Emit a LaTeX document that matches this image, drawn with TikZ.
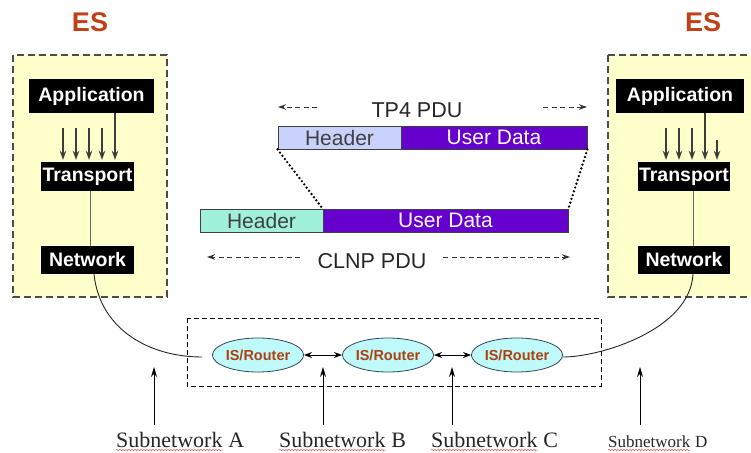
\documentclass[tikz,border=0pt]{standalone}
\usepackage{fontspec}
\setmainfont{Liberation Serif}
\setsansfont{Liberation Sans}
\usetikzlibrary{arrows.meta,shapes.geometric,decorations.pathmorphing}

\definecolor{esred}{RGB}{192,64,24}
\definecolor{esfill}{RGB}{255,255,204}
\definecolor{hdrblue}{RGB}{200,210,250}
\definecolor{udpurple}{RGB}{102,0,204}
\definecolor{hdrgreen}{RGB}{160,240,220}
\definecolor{rtfill}{RGB}{190,250,250}
\definecolor{rtline}{RGB}{50,70,90}
\definecolor{rttext}{RGB}{176,64,16}
\definecolor{arrgray}{RGB}{60,60,60}
\definecolor{spellred}{RGB}{225,90,90}

\begin{document}
\begin{tikzpicture}[x=1pt,y=-1pt,
  esbox/.style={draw=black!70, fill=esfill, line width=1.2pt, dash pattern=on 7pt off 4pt},
  estitle/.style={text=esred, inner sep=0pt, font=\sffamily\bfseries\fontsize{27}{30}\selectfont},
  layer/.style={fill=black, text=white, inner sep=0pt, font=\sffamily\bfseries\fontsize{19.5}{22}\selectfont},
  stackarrow/.style={draw=arrgray, line width=1.8pt, -{Stealth[length=9pt,width=6.5pt]}},
  field/.style={draw=black!75, line width=0.8pt, minimum height=23pt, inner sep=0pt, font=\sffamily\fontsize{21}{24}\selectfont},
  pdulabel/.style={inner sep=0pt, text=black!85, font=\sffamily\fontsize{21.5}{24}\selectfont},
  spanarrow/.style={draw=black!80, line width=1pt, dash pattern=on 5pt off 3.5pt, -{Stealth[length=8pt,width=5.5pt]}},
  fold/.style={draw=black, line width=2.6pt, dash pattern=on 0pt off 4pt, line cap=round},
  router/.style={ellipse, draw=rtline, fill=rtfill, line width=0.8pt, minimum width=90pt, minimum height=34pt, inner sep=0pt, text=rttext, font=\sffamily\bfseries\fontsize{14.5}{16}\selectfont},
  hop/.style={draw=black, line width=1pt, {Stealth[length=8pt,width=6pt]}-{Stealth[length=8pt,width=6pt]}},
  link/.style={draw=black!85, line width=0.9pt},
  stackline/.style={draw=black!60, line width=1pt},
  subnet/.style={inner sep=0pt, anchor=base west, text=black!85, font=\rmfamily\fontsize{22}{24}\selectfont},
  subnetsmall/.style={subnet, font=\rmfamily\fontsize{17}{19}\selectfont},
  uparrow/.style={draw=black, line width=1pt, -{Stealth[length=10pt,width=6pt]}},
  spell/.style={draw=spellred, line width=0.5pt, decorate, decoration={snake, amplitude=0.7pt, segment length=3pt}}
]
\useasboundingbox (0,0) rectangle (751,452);

% end systems
\draw[esbox] (13,55) rectangle (167,297);
\draw[esbox] (608,55) rectangle (760,297);
\node[estitle] (esL) at (90,22) {ES};
\node[estitle] (esR) at (703,22) {ES};

\node[layer, minimum width=125pt, minimum height=34pt] (appL) at (91.5,96) {Application};
\node[layer, minimum width=93pt, minimum height=29pt] (trL) at (87.5,176.5) {Transport};
\node[layer, minimum width=93pt, minimum height=28pt] (netL) at (87.5,260) {Network};

\node[layer, minimum width=128pt, minimum height=34pt] (appR) at (680,96) {Application};
\node[layer, minimum width=92pt, minimum height=29pt] (trR) at (684,176.5) {Transport};
\node[layer, minimum width=92pt, minimum height=28pt] (netR) at (684,260) {Network};

% application -> transport flows
\foreach \x in {63,76,89,102} {
  \coordinate (fl\x) at (\x,128);
  \draw[stackarrow, shorten >=2pt] (fl\x) -- (trL.north -| \x,0);
}
\draw[stackarrow, shorten >=2pt] (appL.south -| 115,0) -- (trL.north -| 115,0);
\foreach \x in {666,679,692} {
  \coordinate (fr\x) at (\x,128);
  \draw[stackarrow, shorten >=2pt] (fr\x) -- (trR.north -| \x,0);
}
\draw[stackarrow, shorten >=2pt] (appR.south -| 705,0) -- (trR.north -| 705,0);
\coordinate (fr717) at (717,140);
\draw[stackarrow, line width=1.1pt, shorten >=2pt] (fr717) -- (trR.north -| 717,0);

\draw[stackline] ([xshift=2.5pt]trL.south) -- ([xshift=2.5pt]netL.north);
\draw[stackline] ([xshift=9pt]trR.south) -- ([xshift=9pt]netR.north);

% PDUs
\node[field, fill=hdrblue, text=black!75, minimum width=123pt] (tpH) at (339.5,137.5) {Header};
\node[field, fill=udpurple, text=white, minimum width=186pt] (tpD) at (494,137.5) {User Data};
\node[field, fill=hdrgreen, text=black!75, minimum width=123pt] (clH) at (261.5,220.5) {Header};
\node[field, fill=udpurple, text=white, minimum width=245pt] (clD) at (445.5,220.5) {User Data};

\draw[fold] (tpH.south west) -- (clD.north west);
\draw[fold] (tpD.south east) -- (clD.north east);

\node[pdulabel] (tpL) at (417,110) {TP4 PDU};
\coordinate (tpA1) at (317,107);
\coordinate (tpA2) at (278,107);
\coordinate (tpB1) at (543,107);
\coordinate (tpB2) at (587,107);
\draw[spanarrow] (tpA1) -- (tpA2);
\draw[spanarrow] (tpB1) -- (tpB2);

\node[pdulabel] (clL) at (372,261) {CLNP PDU};
\coordinate (clA1) at (300,257);
\coordinate (clA2) at (207,257);
\coordinate (clB1) at (443,257);
\coordinate (clB2) at (570,257);
\draw[spanarrow] (clA1) -- (clA2);
\draw[spanarrow] (clB1) -- (clB2);

% intermediate systems
\draw[draw=black, line width=1pt, dash pattern=on 5pt off 3pt] (187,318) rectangle (601,386);
\node[router] (r1) at (258,355) {IS/Router};
\node[router] (r2) at (388,355) {IS/Router};
\node[router] (r3) at (517,355) {IS/Router};
\draw[hop] (r1) -- (r2);
\draw[hop] (r2) -- (r3);

\coordinate (lend) at ([xshift=-10pt,yshift=-2pt]r1.west);
\draw[link] ([xshift=6.5pt]netL.south) .. controls (100,330) and (150,357) .. (lend);
\draw[link] ([yshift=-2pt]r3.east) .. controls (600,357) and (690,330) .. ([xshift=9pt]netR.south);

% subnetworks
\node[subnet] (snA) at (116,447) {Subnetwork};
\node[subnet] (snAx) at (snA.base east) {\ A};
\node[subnet] (snB) at (279,447) {Subnetwork};
\node[subnet] (snBx) at (snB.base east) {\ B};
\node[subnet] (snC) at (431,447) {Subnetwork};
\node[subnet] (snCx) at (snC.base east) {\ C};
\node[subnetsmall] (snD) at (608,447) {Subnetwork};
\node[subnetsmall] (snDx) at (snD.base east) {\ D};

\foreach \n in {snA,snB,snC,snD}
  \draw[spell] ([yshift=-3pt]\n.base west) -- ([yshift=-3pt]\n.base east);

\foreach \n/\x in {A/154,B/323,C/452,D/640} {
  \coordinate (foot\n) at (\x,425);
  \coordinate (tip\n) at (\x,367);
  \draw[uparrow] (foot\n) -- (tip\n);
}
\end{tikzpicture}
\end{document}
